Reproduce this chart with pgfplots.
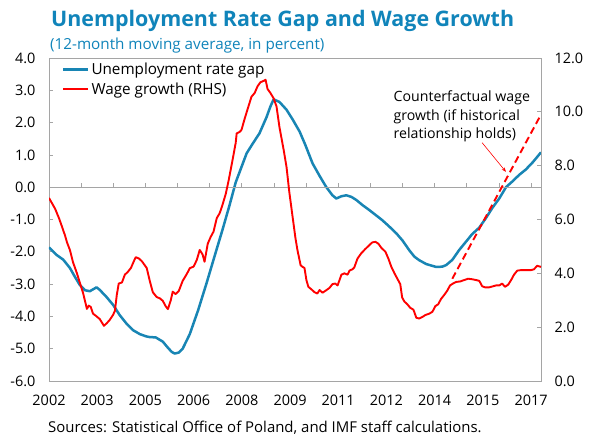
\documentclass[border=0pt]{standalone}
\usepackage{fontspec}
\setmainfont{Open Sans}
\usepackage{pgfplots}
\pgfplotsset{compat=1.18}
\usetikzlibrary{arrows.meta}
\definecolor{imfblue}{RGB}{24,133,180}
\definecolor{titleblue}{RGB}{16,132,186}
\definecolor{framegray}{RGB}{165,165,165}
\definecolor{wagered}{RGB}{255,0,0}

\begin{document}
\begin{tikzpicture}
\pgfplotsset{
  base/.style={scale only axis, width=492bp, height=323bp, xmin=2002, xmax=2017.31,
    /pgf/number format/assume math mode=true,
    tick label style={font=\fontsize{14.5}{16}\selectfont, text=black},
    axis line style={framegray, line width=0.8bp},
    major tick length=4.5bp,
    tick style={framegray, line width=0.8bp},
  }
}
% left axis: frame, blue series, x labels
\begin{axis}[base, ymin=-6, ymax=4,
  xtick={2002,2003.5,2005,2006.5,2008,2009.5,2011,2012.5,2014,2015.5,2017},
  xticklabels={2002,2003,2005,2006,2008,2009,2011,2012,2014,2015,2017},
  major x tick style={draw=none},
  xticklabel style={yshift=-11bp},
  ytick={-6,-5,...,4}, ytick pos=left, ytick align=inside,
  yticklabel style={xshift=-10bp, /pgf/number format/.cd, fixed, fixed zerofill, precision=1},
]
\addplot[imfblue, line width=2.5bp, line join=round] coordinates {
(2002.00,-1.86) (2002.24,-2.10) (2002.44,-2.24) (2002.65,-2.50) (2002.81,-2.78)
(2002.96,-3.03) (2003.12,-3.19) (2003.27,-3.22) (2003.48,-3.10) (2003.58,-3.18)
(2003.79,-3.40) (2004.00,-3.65) (2004.20,-3.96) (2004.41,-4.22) (2004.62,-4.43)
(2004.83,-4.55) (2005.03,-4.62) (2005.13,-4.64) (2005.32,-4.65) (2005.54,-4.78)
(2005.70,-4.97) (2005.82,-5.10) (2005.91,-5.15) (2006.04,-5.12) (2006.16,-5.00)
(2006.38,-4.55) (2006.64,-3.81) (2006.90,-2.98) (2007.16,-2.11) (2007.41,-1.28)
(2007.62,-0.55) (2007.81,0.15) (2008.15,1.05) (2008.34,1.35) (2008.55,1.67)
(2008.77,2.17) (2008.89,2.50) (2008.99,2.72) (2009.17,2.64) (2009.39,2.40)
(2009.58,2.10) (2009.80,1.72) (2009.98,1.30) (2010.20,0.74) (2010.42,0.35)
(2010.63,0.00) (2010.82,-0.25) (2010.94,-0.35) (2011.10,-0.28) (2011.25,-0.25)
(2011.41,-0.30) (2011.57,-0.40) (2011.75,-0.55) (2011.97,-0.71) (2012.19,-0.88)
(2012.37,-1.02) (2012.59,-1.22) (2012.81,-1.43) (2013.00,-1.65) (2013.21,-1.95)
(2013.37,-2.15) (2013.52,-2.26) (2013.74,-2.38) (2014.05,-2.47) (2014.24,-2.46)
(2014.36,-2.41) (2014.55,-2.25) (2014.76,-1.95) (2015.17,-1.45) (2015.39,-1.25)
(2015.60,-0.95) (2015.79,-0.65) (2016.01,-0.35) (2016.22,0.00) (2016.41,0.17)
(2016.63,0.38) (2016.84,0.55) (2017.06,0.78) (2017.31,1.08)
};
\end{axis}
% zero line with yearly ticks
\begin{axis}[base, ymin=-6, ymax=4,
  axis x line=middle, axis y line=none,
  every inner x axis line/.append style={-},
  xtick={2002,2003,...,2017}, xticklabels={},
  xtick align=inside,
]
\end{axis}
% right axis: wage growth
\begin{axis}[base, ymin=0, ymax=12,
  axis y line*=right, axis x line=none,
  ytick={0,2,...,12}, ytick align=inside,
  yticklabel style={xshift=10bp, /pgf/number format/.cd, fixed, fixed zerofill, precision=1},
  legend style={draw=none, fill=none, at={(0.022,0.998)}, anchor=north west,
    font=\fontsize{15.3}{17}\selectfont, row sep=3bp, inner sep=2bp},
  legend cell align=left,
  legend image code/.code={\draw[#1] (0bp,0bp) -- (25bp,0bp);},
]
\coordinate (tl) at (rel axis cs:0,1);
\coordinate (bl) at (rel axis cs:0,0);
\addlegendimage{imfblue, line width=2.5bp}
\addlegendentry{Unemployment rate gap}
\addplot[wagered, line width=1.9bp, line join=round] coordinates {
(2002.00,6.80) (2002.19,6.40) (2002.31,6.05) (2002.40,5.75) (2002.50,5.40)
(2002.56,5.15) (2002.65,4.87) (2002.75,4.40) (2002.87,4.00) (2002.96,3.65)
(2003.06,3.27) (2003.18,2.68) (2003.24,2.80) (2003.30,2.75) (2003.37,2.50)
(2003.46,2.42) (2003.58,2.30) (2003.71,2.05) (2003.80,2.15) (2003.89,2.27)
(2003.99,2.45) (2004.05,2.60) (2004.11,3.20) (2004.17,3.62) (2004.27,3.66)
(2004.36,3.95) (2004.45,4.05) (2004.55,4.20) (2004.64,4.45) (2004.70,4.60)
(2004.80,4.55) (2004.89,4.45) (2004.98,4.30) (2005.04,4.20) (2005.14,3.70)
(2005.23,3.30) (2005.35,3.12) (2005.45,3.07) (2005.54,2.98) (2005.63,2.78)
(2005.70,2.67) (2005.79,3.00) (2005.85,3.32) (2005.94,3.23) (2006.04,3.35)
(2006.16,3.72) (2006.29,3.98) (2006.38,4.19) (2006.50,4.25) (2006.60,4.50)
(2006.69,4.87) (2006.78,4.70) (2006.84,4.43) (2006.94,5.10) (2007.03,5.35)
(2007.12,5.55) (2007.22,6.05) (2007.31,6.23) (2007.40,6.55) (2007.50,6.95)
(2007.59,7.45) (2007.71,8.20) (2007.81,8.85) (2007.84,9.20) (2007.93,9.25)
(2007.99,9.33) (2008.09,9.75) (2008.18,10.10) (2008.30,10.56) (2008.40,10.70)
(2008.49,10.95) (2008.58,11.10) (2008.68,11.15) (2008.74,11.19) (2008.80,10.85)
(2008.89,10.70) (2008.99,10.50) (2009.08,10.20) (2009.17,9.44) (2009.30,8.60)
(2009.39,7.96) (2009.48,7.00) (2009.58,6.10) (2009.67,5.30) (2009.73,4.87)
(2009.83,4.30) (2009.89,4.24) (2009.95,4.20) (2010.01,3.75) (2010.07,3.50)
(2010.17,3.40) (2010.26,3.30) (2010.35,3.25) (2010.42,3.38) (2010.51,3.28)
(2010.60,3.35) (2010.73,3.46) (2010.82,3.60) (2010.91,3.62) (2010.98,3.55)
(2011.04,3.75) (2011.10,3.95) (2011.19,4.00) (2011.29,3.95) (2011.35,4.10)
(2011.44,4.15) (2011.50,4.22) (2011.60,4.55) (2011.72,4.75) (2011.84,4.90)
(2011.97,5.05) (2012.06,5.15) (2012.16,5.17) (2012.25,5.10) (2012.34,4.95)
(2012.47,4.80) (2012.56,4.55) (2012.65,4.25) (2012.75,4.00) (2012.84,3.80)
(2012.93,3.60) (2012.99,3.10) (2013.06,2.95) (2013.15,2.85) (2013.24,2.72)
(2013.34,2.65) (2013.43,2.35) (2013.52,2.32) (2013.62,2.38) (2013.71,2.45)
(2013.83,2.50) (2013.93,2.57) (2014.02,2.78) (2014.11,2.85) (2014.20,3.05)
(2014.30,3.20) (2014.39,3.35) (2014.48,3.55) (2014.57,3.62) (2014.67,3.68)
(2014.80,3.70) (2014.92,3.75) (2015.04,3.80) (2015.17,3.78) (2015.29,3.75)
(2015.39,3.72) (2015.48,3.52) (2015.57,3.48) (2015.70,3.48) (2015.82,3.52)
(2015.91,3.55) (2016.01,3.55) (2016.10,3.62) (2016.19,3.50) (2016.29,3.58)
(2016.38,3.75) (2016.47,3.95) (2016.57,4.10) (2016.69,4.12) (2016.84,4.12)
(2017.00,4.12) (2017.09,4.15) (2017.19,4.28) (2017.31,4.24)
};
\addlegendentry{Wage growth (RHS)}
\addplot[wagered, line width=1.9bp, dash pattern=on 7bp off 4bp, forget plot] coordinates {
(2014.55,3.80) (2015.90,6.78) (2017.31,9.90)
};
\node[anchor=north west, align=left, inner sep=0pt, font=\fontsize{14.2}{18.5}\selectfont]
  at (axis cs:2012.72,10.78) {Counterfactual wage\\growth (if historical\\relationship holds)};
\draw[wagered, line width=0.6bp, -{Stealth[length=4.5bp,width=3.5bp]}]
  (axis cs:2015.48,8.85) -- (axis cs:2016.22,7.77);
\end{axis}
\node[anchor=base west, inner sep=0pt, text=titleblue, font={\fontsize{21.5}{24}\selectfont\bfseries}]
  at ([xshift=2bp,yshift=31bp]tl) {Unemployment Rate Gap and Wage Growth};
\node[anchor=base west, inner sep=0pt, text=titleblue, font={\fontsize{15.3}{17}\selectfont}]
  at ([xshift=1bp,yshift=8bp]tl) {(12-month moving average, in percent)};
\node[anchor=base west, inner sep=0pt, font={\fontsize{15}{17}\selectfont}]
  at ([xshift=-1bp,yshift=-51bp]bl) {Sources: Statistical Office of Poland, and IMF staff calculations.};
\path (bl) ++(-49bp,-57bp) rectangle ++(591bp,438bp);
\end{tikzpicture}
\end{document}
